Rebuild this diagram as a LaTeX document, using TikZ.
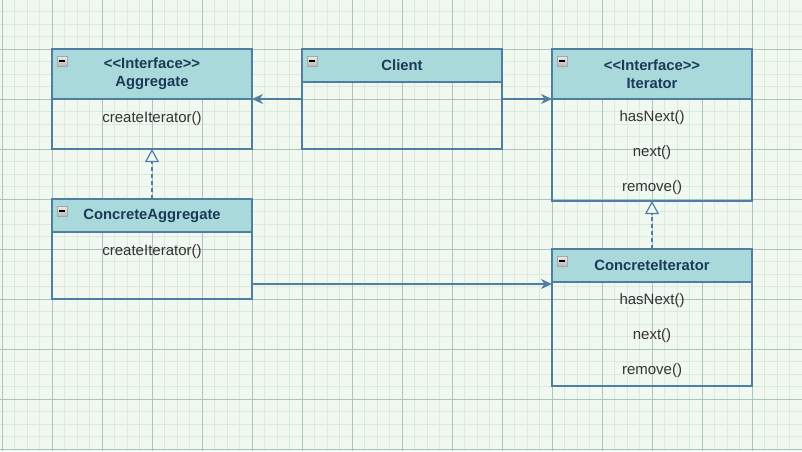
\documentclass[tikz,border=0pt]{standalone}
\usepackage{fontspec}
\setmainfont{Liberation Sans}[Ligatures=TeXOff]
\usetikzlibrary{arrows.meta}

\definecolor{paper}{HTML}{F1F8F0}
\definecolor{gridminor}{HTML}{DBEADD}
\definecolor{gridmajor}{HTML}{AAC4BF}
\definecolor{umlline}{HTML}{4F7EA3}
\definecolor{umlhead}{HTML}{A9D9DB}
\definecolor{headtext}{HTML}{1B3A57}
\definecolor{bodytext}{HTML}{333333}

\tikzset{
  classhead/.style={draw=umlline, fill=umlhead, line width=1.3pt, minimum width=200pt,
    inner sep=0pt, outer sep=0pt, anchor=north west, align=center, text=headtext,
    font=\bfseries\fontsize{14.8}{18}\selectfont},
  classbody/.style={draw=umlline, line width=1.3pt, minimum width=200pt,
    inner sep=0pt, outer sep=0pt, anchor=north west},
  method/.style={font=\fontsize{15}{17}\selectfont, text=bodytext, inner sep=1pt},
  minusbox/.style={draw=gray!70, line width=0.6pt, minimum size=10pt, inner sep=0pt,
    top color=gray!15, bottom color=gray!55,
    path picture={\draw[black, line width=1.3pt]
      ([xshift=2pt]path picture bounding box.west) -- ([xshift=-2pt]path picture bounding box.east);}},
  assoc/.style={draw=umlline, line width=1.2pt, -{Stealth[length=11pt,width=10pt,inset=3.5pt]}},
  realize/.style={draw=umlline, line width=1.2pt, dash pattern=on 4pt off 3pt,
    -{Triangle[open,length=13pt,width=14pt,fill=paper]}}
}

\begin{document}
\begin{tikzpicture}[x=1pt,y=-1pt]
  \useasboundingbox (0,0) rectangle (802,451);
  \fill[paper] (0,0) rectangle (802,451);
  \foreach \gx in {2,14.5,...,802}
    \draw[gridminor, line width=0.6pt] (\gx,0) -- (\gx,451);
  \foreach \gy in {-1,11.5,...,452}
    \draw[gridminor, line width=0.6pt] (0,\gy) -- (802,\gy);
  \foreach \gx in {2,52,...,802}
    \draw[gridmajor, line width=0.8pt] (\gx,0) -- (\gx,451);
  \foreach \gy in {-1,49,...,452}
    \draw[gridmajor, line width=0.8pt] (0,\gy) -- (802,\gy);

  % Aggregate
  \node[classhead, minimum height=50pt] (agg-head) at (52,49) {<<Interface>>\\Aggregate};
  \node[classbody, minimum height=50pt] (agg-body) at (agg-head.south west) {};
  \node[method] (agg-create) at (152,118.5) {createIterator()};
  \node[minusbox] (agg-minus) at (62,61) {};

  % Client
  \node[classhead, minimum height=33pt] (client-head) at (302,49) {Client};
  \node[classbody, minimum height=67pt] (client-body) at (client-head.south west) {};
  \node[minusbox] (client-minus) at (312,61) {};

  % Iterator
  \node[classhead, minimum height=50pt] (iter-head) at (552,49) {<<Interface>>\\Iterator};
  \node[classbody, minimum height=102pt] (iter-body) at (iter-head.south west) {};
  \node[method] (iter-hasnext) at (652,117.5) {hasNext()};
  \node[method] (iter-next) at (652,152.5) {next()};
  \node[method] (iter-remove) at (652,187.5) {remove()};
  \node[minusbox] (iter-minus) at (562,61) {};

  % ConcreteAggregate
  \node[classhead, minimum height=33pt] (cagg-head) at (52,199) {ConcreteAggregate};
  \node[classbody, minimum height=67pt] (cagg-body) at (cagg-head.south west) {};
  \node[method] (cagg-create) at (152,251.5) {createIterator()};
  \node[minusbox] (cagg-minus) at (62,211) {};

  % ConcreteIterator
  \node[classhead, minimum height=33pt] (citer-head) at (552,249) {ConcreteIterator};
  \node[classbody, minimum height=104pt] (citer-body) at (citer-head.south west) {};
  \node[method] (citer-hasnext) at (652,300.5) {hasNext()};
  \node[method] (citer-next) at (652,335.5) {next()};
  \node[method] (citer-remove) at (652,370.5) {remove()};
  \node[minusbox] (citer-minus) at (562,261) {};

  \coordinate (citer-link) at ([yshift=-2pt]citer-head.south west);

  \draw[assoc] (client-body.west |- agg-head.south) -- (agg-head.south east);
  \draw[assoc] (client-body.east |- iter-head.south) -- (iter-head.south west);
  \draw[assoc] (cagg-body.east |- citer-link) -- (citer-link);
  \draw[realize] (cagg-head.north) -- (agg-body.south);
  \draw[realize] (citer-head.north) -- (iter-body.south);
\end{tikzpicture}
\end{document}
